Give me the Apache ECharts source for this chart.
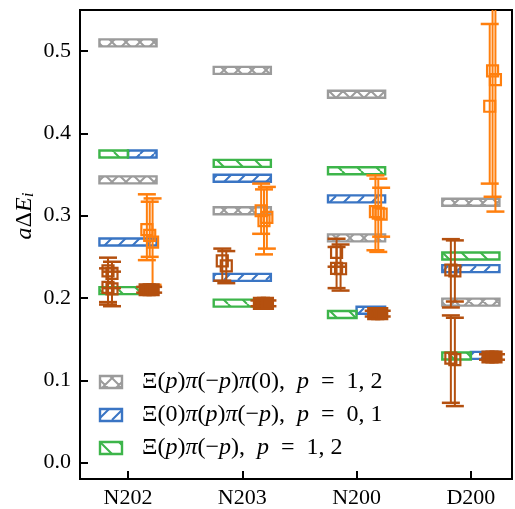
<!DOCTYPE html>
<html>
<head>
<meta charset="utf-8">
<script src="https://cdn.jsdelivr.net/npm/echarts@6/dist/echarts.min.js"></script>
<style>
html,body{margin:0;padding:0;background:#fff;}
#chart{width:515px;height:509px;}
</style>
</head>
<body>
<div id="chart"></div>
<script>
// ---------------- data ----------------
const categories = ['N202', 'N203', 'N200', 'D200'];
const yTicks = [0.0, 0.1, 0.2, 0.3, 0.4, 0.5];

// non-interacting levels: [ensemble index, aΔE, side ('F' full, 'L' left half, 'R' right half)]
const grayLevels = [
  [0, 0.510, 'F'], [0, 0.3435, 'F'],
  [1, 0.4766, 'F'], [1, 0.306, 'F'],
  [2, 0.4476, 'F'], [2, 0.273, 'F'],
  [3, 0.3163, 'F'], [3, 0.195, 'F']
];
const blueLevels = [
  [0, 0.375, 'R'], [0, 0.268, 'F'],
  [1, 0.3456, 'F'], [1, 0.225, 'F'],
  [2, 0.3204, 'F'], [2, 0.185, 'R'],
  [3, 0.2357, 'F'], [3, 0.1303, 'R']
];
const greenLevels = [
  [0, 0.375, 'L'], [0, 0.209, 'F'],
  [1, 0.3636, 'F'], [1, 0.1937, 'F'],
  [2, 0.3547, 'F'], [2, 0.180, 'L'],
  [3, 0.251, 'F'], [3, 0.1295, 'L']
];

// lattice energies: [ensemble index, slot, value, lower, upper]
const brownLeft = [
  [0, 0, 0.233, 0.192, 0.249], [0, 1, 0.230, 0.212, 0.244],
  [0, 0, 0.213, 0.195, 0.236], [0, 1, 0.211, 0.190, 0.232],
  [1, 0, 0.245, 0.221, 0.260], [1, 1, 0.239, 0.218, 0.257],
  [2, 0, 0.2555, 0.238, 0.272], [2, 1, 0.2355, 0.209, 0.265],
  [2, 0, 0.236, 0.212, 0.262],
  [3, 0, 0.234, 0.1885, 0.2715], [3, 1, 0.233, 0.1957, 0.2700],
  [3, 0, 0.127, 0.0726, 0.1788], [3, 1, 0.125, 0.0686, 0.1760]
];
const orangePts = [
  [0, 0, 0.283, 0.246, 0.326], [0, 2, 0.268, 0.216, 0.321], [0, 1, 0.276, 0.250, 0.317],
  [1, 0, 0.306, 0.278, 0.339], [1, 2, 0.298, 0.260, 0.335], [1, 1, 0.294, 0.253, 0.332],
  [2, 0, 0.305, 0.258, 0.349], [2, 2, 0.302, 0.2745, 0.334], [2, 1, 0.303, 0.256, 0.345],
  [3, 1, 0.476, 0.323, 0.62], [3, 2, 0.4655, 0.305, 0.60], [3, 0, 0.433, 0.339, 0.533]
];
const brownTight = [
  [0, 0, 0.210, 0.2065, 0.2135], [0, 1, 0.210, 0.2065, 0.2135], [0, 2, 0.210, 0.2065, 0.2135],
  [1, 0, 0.1934, 0.190, 0.197], [1, 1, 0.1934, 0.190, 0.197], [1, 2, 0.1934, 0.190, 0.197],
  [2, 0, 0.181, 0.1775, 0.1845], [2, 1, 0.181, 0.1775, 0.1845], [2, 2, 0.181, 0.1775, 0.1845],
  [3, 0, 0.1283, 0.125, 0.1316], [3, 1, 0.1283, 0.125, 0.1316], [3, 2, 0.1283, 0.125, 0.1316]
];

const legendLabels = [
  '{u|Ξ(}{i|p}{u|)}{i|π}{u|(−}{i|p}{u|)}{i|π}{u|(0),  }{i|p}{u|  =  1, 2}',
  '{u|Ξ(0)}{i|π}{u|(}{i|p}{u|)}{i|π}{u|(−}{i|p}{u|),  }{i|p}{u|  =  0, 1}',
  '{u|Ξ(}{i|p}{u|)}{i|π}{u|(−}{i|p}{u|),  }{i|p}{u|  =  1, 2}'
];

// ---------------- styling ----------------
const FONT = 'Liberation Serif';
const C_GRAY = '#9b9b9b', C_BLUE = '#3a75c4', C_GREEN = '#3db54a';
const C_ORANGE = '#ff7f0e', C_BROWN = '#b4500f';
const BAND_HALF = 0.25;
const leftSlots = [-0.175, -0.14];
const rightSlots = [0.165, 0.19, 0.215];
const tightSlots = [0.15, 0.185, 0.22];

function hatch(color, kind, P) {
  const c = document.createElement('canvas');
  c.width = P; c.height = P;
  const g = c.getContext('2d');
  g.strokeStyle = color; g.lineWidth = 2;
  g.beginPath();
  for (let k = -1; k <= 1; k++) {
    if (kind === '/' || kind === 'x') { g.moveTo(k * P, P); g.lineTo(k * P + P, 0); }
    if (kind === '\\' || kind === 'x') { g.moveTo(k * P, 0); g.lineTo(k * P + P, P); }
  }
  g.stroke();
  return c;
}
const patGray = { image: hatch(C_GRAY, 'x', 14), repeat: 'repeat' };
const patBlue = { image: hatch(C_BLUE, '/', 14), repeat: 'repeat' };
const patGreen = { image: hatch(C_GREEN, '\\', 19), repeat: 'repeat' };

function bandData(levels) {
  return levels.map(l => {
    const [e, v, s] = l;
    return [e + (s === 'R' ? 0 : -BAND_HALF), e + (s === 'L' ? 0 : BAND_HALF), v];
  });
}
function bandSeries(levels, color, pat) {
  return {
    type: 'custom', data: bandData(levels), z: 2, silent: true,
    renderItem: function (params, api) {
      const a = api.coord([api.value(0), api.value(2)]);
      const b = api.coord([api.value(1), api.value(2)]);
      return {
        type: 'rect',
        shape: { x: a[0], y: a[1] - 3.5, width: b[0] - a[0], height: 7 },
        style: { fill: pat, stroke: color, lineWidth: 2.4 }
      };
    }
  };
}
function errSeries(points, color, slots, z, filled) {
  return {
    type: 'custom', data: points, z: z, silent: true,
    renderItem: function (params, api) {
      const cs = params.coordSys;
      const top = cs.y, bot = cs.y + cs.height;
      const x = api.value(0) + slots[api.value(1)];
      const pc = api.coord([x, api.value(2)]);
      const pl = api.coord([x, api.value(3)]);
      const ph = api.coord([x, api.value(4)]);
      const yh = Math.max(ph[1], top), yl = Math.min(pl[1], bot);
      const ch = [{ type: 'line', shape: { x1: pc[0], y1: yh, x2: pc[0], y2: yl }, style: { stroke: color, lineWidth: 2 } }];
      if (ph[1] >= top) ch.push({ type: 'line', shape: { x1: pc[0] - 9, y1: ph[1], x2: pc[0] + 9, y2: ph[1] }, style: { stroke: color, lineWidth: 2.5 } });
      if (pl[1] <= bot) ch.push({ type: 'line', shape: { x1: pc[0] - 9, y1: pl[1], x2: pc[0] + 9, y2: pl[1] }, style: { stroke: color, lineWidth: 2.5 } });
      ch.push({ type: 'rect', shape: { x: pc[0] - 5.5, y: pc[1] - 5.5, width: 11, height: 11 },
        style: { fill: filled ? color : 'none', stroke: color, lineWidth: 2.2 } });
      return { type: 'group', children: ch };
    }
  };
}

const chart = echarts.init(document.getElementById('chart'), null, { renderer: 'canvas' });

const legendPats = [[patGray, C_GRAY], [patBlue, C_BLUE], [patGreen, C_GREEN]];
const legendY = [382, 415, 448];
const graphics = [];
legendLabels.forEach((lab, i) => {
  graphics.push({
    type: 'rect', shape: { x: 100, y: legendY[i] - 6, width: 22, height: 12 },
    style: { fill: legendPats[i][0], stroke: legendPats[i][1], lineWidth: 2.4 }, z: 10
  });
  graphics.push({
    type: 'text', x: 142, y: legendY[i], z: 10,
    style: {
      text: lab, verticalAlign: 'middle', align: 'left',
      rich: {
        u: { fontFamily: FONT, fontSize: 24, fontStyle: 'normal', fill: '#000' },
        i: { fontFamily: FONT, fontSize: 24, fontStyle: 'italic', fill: '#000' }
      }
    }
  });
});
graphics.push({
  type: 'text', x: 25, y: 216, rotation: Math.PI / 2, z: 10,
  style: {
    text: '{i|a}{u|Δ}{i|E}{s|i}', align: 'center', verticalAlign: 'middle',
    rich: {
      u: { fontFamily: FONT, fontSize: 24, fill: '#000' },
      i: { fontFamily: FONT, fontSize: 24, fontStyle: 'italic', fill: '#000' },
      s: { fontFamily: FONT, fontSize: 17, fontStyle: 'italic', fill: '#000', verticalAlign: 'bottom', lineHeight: 10 }
    }
  }
});

chart.setOption({
  animation: false,
  grid: { left: 80, right: 3, top: 10, bottom: 28, show: true, borderColor: '#000', borderWidth: 2, backgroundColor: 'transparent' },
  xAxis: {
    type: 'value', min: -0.42, max: 3.36,
    axisLine: { show: true, onZero: false, lineStyle: { color: '#000', width: 2 } },
    axisTick: { show: true, inside: true, length: 8, customValues: [0, 1, 2, 3], lineStyle: { color: '#000', width: 2 } },
    axisLabel: { show: true, customValues: [0, 1, 2, 3], margin: 8, color: '#000', fontFamily: FONT, fontSize: 22,
      formatter: v => categories[Math.round(v)] },
    splitLine: { show: false }
  },
  yAxis: {
    type: 'value', min: -0.02, max: 0.55,
    axisLine: { show: true, onZero: false, lineStyle: { color: '#000', width: 2 } },
    axisTick: { show: true, inside: true, length: 8, customValues: yTicks, lineStyle: { color: '#000', width: 2 } },
    axisLabel: { show: true, customValues: yTicks, margin: 9, color: '#000', fontFamily: FONT, fontSize: 22,
      formatter: v => v.toFixed(1) },
    splitLine: { show: false }
  },
  graphic: graphics,
  series: [
    bandSeries(grayLevels, C_GRAY, patGray),
    bandSeries(blueLevels, C_BLUE, patBlue),
    bandSeries(greenLevels, C_GREEN, patGreen),
    errSeries(brownLeft, C_BROWN, leftSlots, 5, false),
    errSeries(orangePts, C_ORANGE, rightSlots, 5, false),
    errSeries(brownTight, C_BROWN, tightSlots, 6, true)
  ]
});
</script>
</body>
</html>
